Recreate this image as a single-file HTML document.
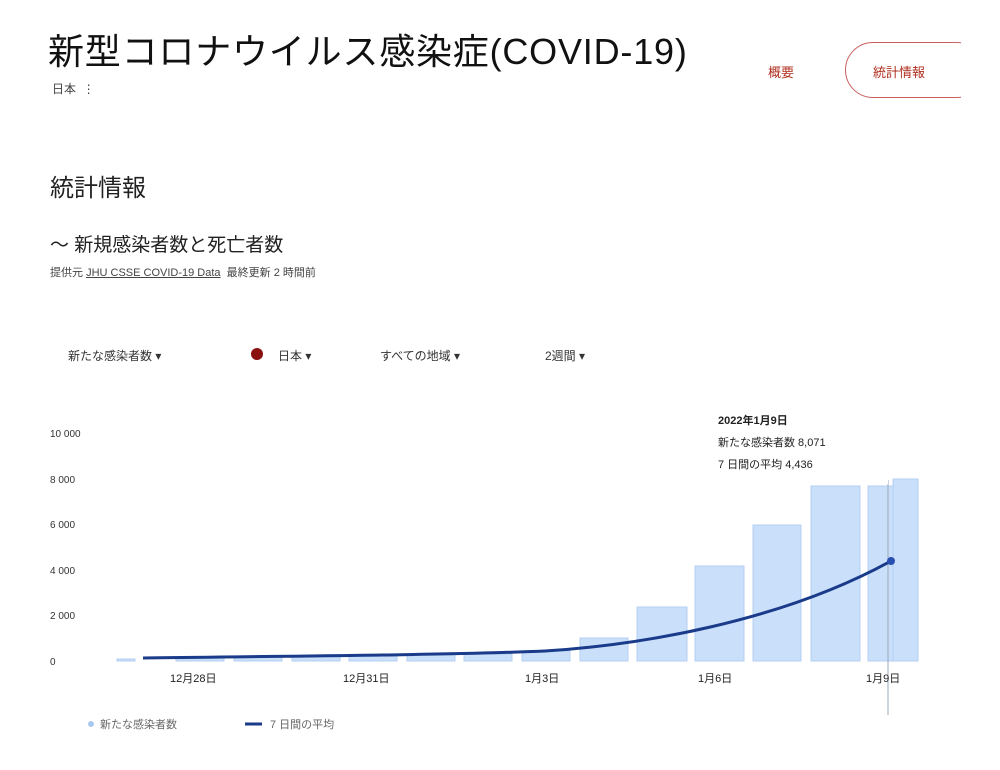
<!DOCTYPE html>
<html><head><meta charset="utf-8"><style>
body{margin:0;width:1000px;height:770px;background:#fff;position:relative;overflow:hidden;font-family:"Liberation Sans","Noto Sans CJK JP",sans-serif;color:#222}
.a{position:absolute;white-space:nowrap}
</style></head><body>
<div class="a" style="left:48px;top:23px;font-size:36px;color:#111;letter-spacing:0.8px">新型コロナウイルス感染症(COVID-19)</div>
<div class="a" style="left:52px;top:80px;font-size:12px;color:#444">日本 &nbsp;⋮</div>
<div class="a" style="left:768px;top:62px;font-size:13px;color:#b03020">概要</div>
<div class="a" style="left:845px;top:42px;width:140px;height:56px;border:1.5px solid #c86060;border-radius:28px;box-sizing:border-box"></div>
<div class="a" style="left:961px;top:30px;width:40px;height:80px;background:#fff"></div>
<div class="a" style="left:873px;top:62px;font-size:13px;color:#b03020">統計情報</div>
<div class="a" style="left:50px;top:168px;font-size:24px;color:#222">統計情報</div>
<div class="a" style="left:50px;top:230px;font-size:19px;color:#222">〜 新規感染者数と死亡者数</div>
<div class="a" style="left:50px;top:264px;font-size:11px;color:#444">提供元 <u>JHU CSSE COVID-19 Data</u> &nbsp;最終更新 2 時間前</div>
<div class="a" style="left:68px;top:347px;font-size:12px;color:#333">新たな感染者数 ▾</div>
<div class="a" style="left:251px;top:348px;width:12px;height:12px;border-radius:50%;background:#8b1010"></div>
<div class="a" style="left:278px;top:347px;font-size:12px;color:#333">日本 ▾</div>
<div class="a" style="left:380px;top:347px;font-size:12px;color:#333">すべての地域 ▾</div>
<div class="a" style="left:545px;top:347px;font-size:12px;color:#333">2週間 ▾</div>
<svg class="a" style="left:0;top:0" width="1000" height="770">
<g font-size="10" fill="#333" font-family="Liberation Sans,sans-serif">
<text x="50" y="437">10 000</text><text x="50" y="483">8 000</text><text x="50" y="528">6 000</text><text x="50" y="574">4 000</text><text x="50" y="619">2 000</text><text x="50" y="665">0</text>
</g>
<g fill="#c9dffa" stroke="#b5cff2" stroke-width="1">
<rect x="117" y="659" width="18" height="2"/>
<rect x="176" y="657" width="48" height="4"/><rect x="234" y="657" width="48" height="4"/><rect x="292" y="656" width="48" height="5"/><rect x="349" y="656" width="48" height="5"/><rect x="407" y="655" width="48" height="6"/><rect x="464" y="654" width="48" height="7"/><rect x="522" y="651" width="48" height="10"/>
<rect x="580" y="638" width="48" height="23"/><rect x="637" y="607" width="50" height="54"/><rect x="695" y="566" width="49" height="95"/><rect x="753" y="525" width="48" height="136"/><rect x="811" y="486" width="49" height="175"/><rect x="868" y="486" width="25" height="175"/><rect x="893" y="479" width="25" height="182"/>
</g>
<line x1="888" y1="480" x2="888" y2="715" stroke="#9ab" stroke-width="1"/>
<path d="M143,658 C300,656 450,655 545,651 C640,645 780,622 891,561" fill="none" stroke="#1a3a8a" stroke-width="3"/>
<circle cx="891" cy="561" r="4" fill="#2850b0"/>
<rect x="710" y="402" width="178" height="82" fill="#fff"/>
<g font-size="11" fill="#222" font-family="Liberation Sans,Noto Sans CJK JP,sans-serif">
<text x="718" y="424" font-weight="bold">2022年1月9日</text><text x="718" y="446">新たな感染者数 8,071</text><text x="718" y="468">7 日間の平均 4,436</text>
<text x="170" y="682">12月28日</text><text x="343" y="682">12月31日</text><text x="525" y="682">1月3日</text><text x="698" y="682">1月6日</text><text x="866" y="682">1月9日</text>
<text x="100" y="728" fill="#666">新たな感染者数</text><text x="270" y="728" fill="#666">7 日間の平均</text>
</g>
<circle cx="91" cy="724" r="3" fill="#a8c8f0"/>
<line x1="245" y1="724" x2="262" y2="724" stroke="#1a3a8a" stroke-width="3"/>
</svg>
</body></html>
